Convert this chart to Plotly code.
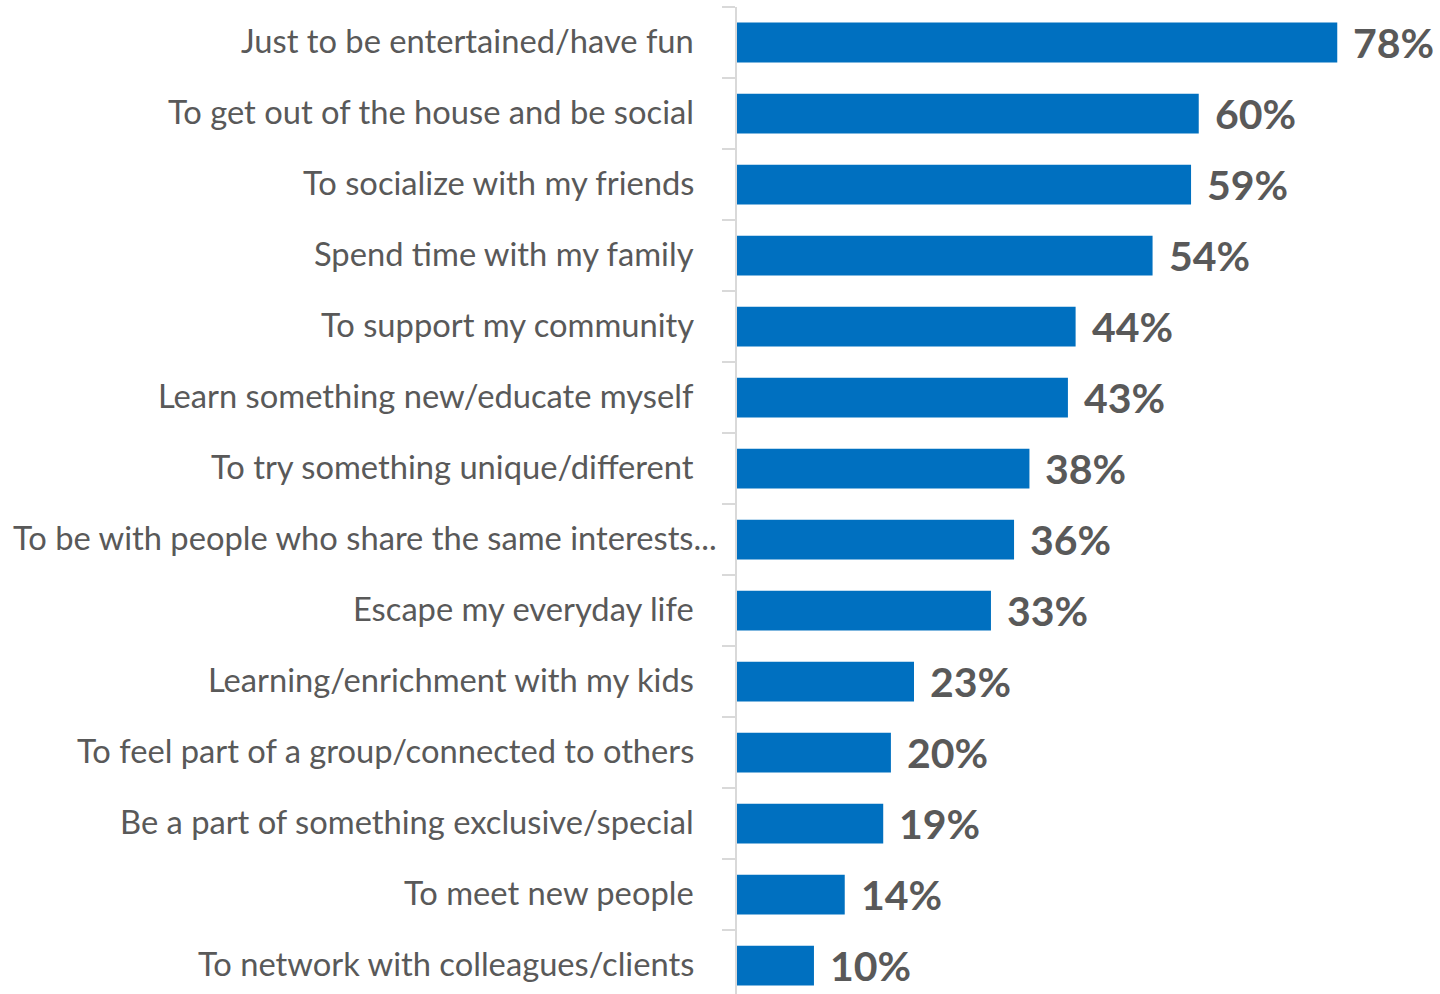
import plotly.graph_objects as go

categories = [
    "Just to be entertained/have fun",
    "To get out of the house and be social",
    "To socialize with my friends",
    "Spend time with my family",
    "To support my community",
    "Learn something new/educate myself",
    "To try something unique/different",
    "To be with people who share the same interests...",
    "Escape my everyday life",
    "Learning/enrichment with my kids",
    "To feel part of a group/connected to others",
    "Be a part of something exclusive/special",
    "To meet new people",
    "To network with colleagues/clients",
]
values = [78, 60, 59, 54, 44, 43, 38, 36, 33, 23, 20, 19, 14, 10]

BAR_COLOR = "#0070C0"
TEXT_COLOR = "#595959"
AXIS_COLOR = "#D9D9D9"
FONT = "Lato"

fig = go.Figure(
    go.Bar(
        x=values,
        y=categories,
        orientation="h",
        marker=dict(color=BAR_COLOR, line=dict(width=0)),
        width=0.56,
        hoverinfo="x+y",
    )
)

# value labels just past each bar end
for cat, v in zip(categories, values):
    fig.add_annotation(
        x=v, y=cat, xref="x", yref="y",
        text=f"<b>{v}%</b>", showarrow=False,
        xanchor="left", yanchor="middle", xshift=14,
        font=dict(family=FONT, size=41, color=TEXT_COLOR),
    )

# category labels to the left of the axis line
for cat in categories:
    shift = -18 if cat.endswith("...") else -41
    fig.add_annotation(
        x=0, y=cat, xref="x", yref="y",
        text=cat, showarrow=False,
        xanchor="right", yanchor="middle", xshift=shift, yshift=2,
        font=dict(family=FONT, size=32.7, color=TEXT_COLOR),
    )

fig.update_layout(
    width=1440, height=994,
    margin=dict(l=737, r=5, t=7, b=0),
    paper_bgcolor="white", plot_bgcolor="white",
    showlegend=False, bargap=0.44,
)
fig.update_xaxes(
    range=[0, 90.7], visible=False, showgrid=False, zeroline=False,
)
fig.update_yaxes(
    type="category",
    range=[13.4, -0.5],
    showticklabels=False,
    showgrid=False,
    showline=True, linecolor=AXIS_COLOR, linewidth=2,
    ticks="outside", tickson="boundaries", ticklen=13, tickcolor=AXIS_COLOR, tickwidth=2,
)

fig.write_html("out.html")
